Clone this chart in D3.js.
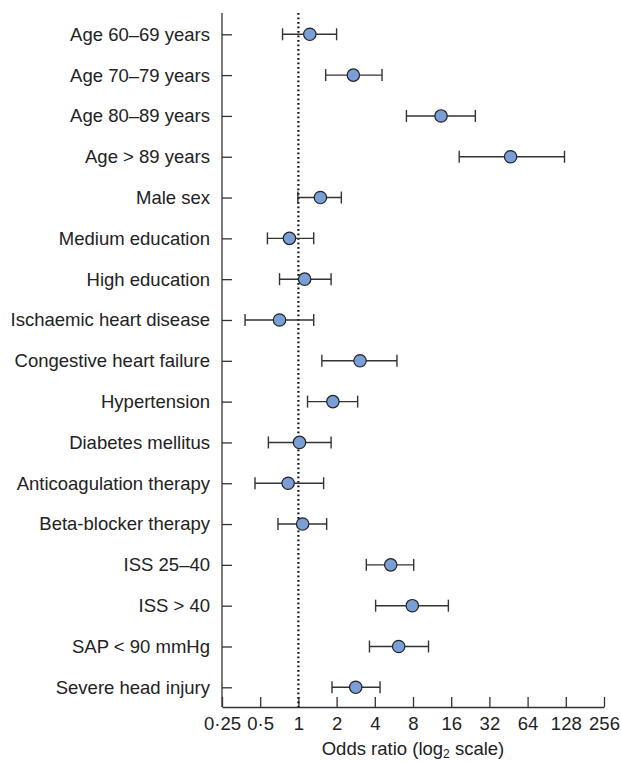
<!DOCTYPE html>
<html>
<head>
<meta charset="utf-8">
<script src="https://cdn.jsdelivr.net/npm/d3@7"></script>
<style>
  body { margin: 0; background: #fff; }
  svg text { font-family: "Liberation Sans", Arial, sans-serif; fill: #222; }
</style>
</head>
<body>
<svg width="621" height="762"></svg>
<script>
var labels = ["Age 60\u201369 years", "Age 70\u201379 years", "Age 80\u201389 years", "Age > 89 years",
  "Male sex", "Medium education", "High education", "Ischaemic heart disease",
  "Congestive heart failure", "Hypertension", "Diabetes mellitus", "Anticoagulation therapy",
  "Beta-blocker therapy", "ISS 25\u201340", "ISS > 40", "SAP < 90 mmHg", "Severe head injury"];
var oddsRatio = [1.23, 2.71, 13.3, 47, 1.49, 0.85, 1.12, 0.71, 3.06, 1.87, 1.02, 0.83, 1.08, 5.34, 7.9, 6.17, 2.83];
var ciLow = [0.75, 1.64, 7.1, 18.5, 0.99, 0.57, 0.71, 0.38, 1.53, 1.18, 0.58, 0.455, 0.69, 3.43, 4.06, 3.63, 1.84];
var ciHigh = [2.0, 4.56, 24.8, 125, 2.18, 1.32, 1.81, 1.32, 5.98, 2.93, 1.81, 1.58, 1.67, 8.1, 15.2, 10.6, 4.4];
var xTicks = [0.25, 0.5, 1, 2, 4, 8, 16, 32, 64, 128, 256];
var xTickLabels = ["0\u00b725", "0\u00b75", "1", "2", "4", "8", "16", "32", "64", "128", "256"];

var rows = labels.map(function(l, i) {
  return { label: l, or: oddsRatio[i], lo: ciLow[i], hi: ciHigh[i] };
});

var svg = d3.select("svg");
var plotLeft = 222, plotRight = 604, plotTop = 13, plotBottom = 707;
var fontSize = 18.5;

var x = d3.scaleLog().base(2).domain([0.25, 256]).range([plotLeft, plotRight]);
var y = d3.scalePoint().domain(labels).range([34.3, 687.3]);

// y axis: ticks point inward
var yAxis = svg.append("g")
  .attr("transform", "translate(" + plotLeft + ",0)")
  .call(d3.axisLeft(y).tickSizeInner(-10).tickSizeOuter(0).tickPadding(12));
yAxis.select(".domain").attr("d", "M0," + plotTop + "V" + plotBottom);
yAxis.selectAll("text").attr("font-size", fontSize).style("font-family", "Liberation Sans, Arial, sans-serif");

var xAxis = svg.append("g")
  .attr("transform", "translate(0," + plotBottom + ")")
  .call(d3.axisBottom(x).tickValues(xTicks)
    .tickFormat(function(d, i) { return xTickLabels[i]; })
    .tickSizeInner(-10).tickSizeOuter(0).tickPadding(10));
xAxis.selectAll("text").attr("font-size", fontSize).style("font-family", "Liberation Sans, Arial, sans-serif");

svg.selectAll(".domain, .tick line").attr("stroke", "#333").attr("stroke-width", 1.3);

// reference line at OR = 1
svg.append("line")
  .attr("x1", x(1)).attr("x2", x(1))
  .attr("y1", plotTop).attr("y2", plotBottom)
  .attr("stroke", "#111").attr("stroke-width", 2.2)
  .attr("stroke-dasharray", "1.8,2.7");

var g = svg.selectAll(".row").data(rows).enter().append("g").attr("class", "row");

g.append("line")
  .attr("x1", function(d) { return x(d.lo); })
  .attr("x2", function(d) { return x(d.hi); })
  .attr("y1", function(d) { return y(d.label); })
  .attr("y2", function(d) { return y(d.label); })
  .attr("stroke", "#333").attr("stroke-width", 1.4);

["lo", "hi"].forEach(function(k) {
  g.append("line")
    .attr("x1", function(d) { return x(d[k]); })
    .attr("x2", function(d) { return x(d[k]); })
    .attr("y1", function(d) { return y(d.label) - 6; })
    .attr("y2", function(d) { return y(d.label) + 6; })
    .attr("stroke", "#333").attr("stroke-width", 1.4);
});

g.append("circle")
  .attr("cx", function(d) { return x(d.or); })
  .attr("cy", function(d) { return y(d.label); })
  .attr("r", 6.2)
  .attr("fill", "#7a9fd6")
  .attr("stroke", "#222").attr("stroke-width", 1.2);

var title = svg.append("text")
  .attr("x", (plotLeft + plotRight) / 2).attr("y", 755)
  .attr("text-anchor", "middle").attr("font-size", fontSize);
title.append("tspan").text("Odds ratio (log");
title.append("tspan").attr("font-size", 12).attr("dy", 3).text("2");
title.append("tspan").attr("dy", -3).text(" scale)");
</script>
</body>
</html>
